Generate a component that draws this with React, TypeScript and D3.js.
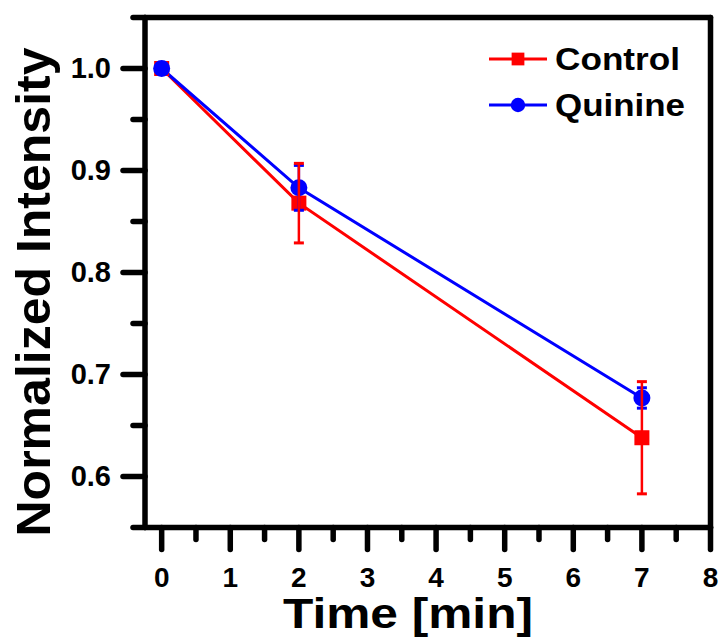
import React from "react";
import * as d3 from "d3";

const times = [0, 2, 7];
const controlValues = [1.0, 0.868, 0.638];
const controlErrors = [0, 0.039, 0.055];
const quinineValues = [1.0, 0.883, 0.677];
const quinineErrors = [0, 0.022, 0.01];
const xTicks = [0, 1, 2, 3, 4, 5, 6, 7, 8];
const xMinorTicks = [0.5, 1.5, 2.5, 3.5, 4.5, 5.5, 6.5, 7.5];
const yTicks = [0.6, 0.7, 0.8, 0.9, 1.0];
const yMinorTicks = [0.55, 0.65, 0.75, 0.85, 0.95, 1.05];
const seriesNames = ["Control", "Quinine"];

const W = 719;
const H = 643;
const FONT = "'Liberation Sans', Arial, Helvetica, sans-serif";

export default function App() {
  const x = d3.scaleLinear().domain([-0.243, 8]).range([145, 710.5]);
  const y = d3.scaleLinear().domain([0.55, 1.05]).range([527.5, 17.5]);

  const series = [
    { name: seriesNames[0], values: controlValues, errors: controlErrors, color: "#ff0000", shape: "square" },
    { name: seriesNames[1], values: quinineValues, errors: quinineErrors, color: "#0000ff", shape: "circle" },
  ];

  const line = d3
    .line<number>()
    .x((_, i) => x(times[i]))
    .y((d) => y(d));

  const marker = (shape: string, cx: number, cy: number, color: string, key: string, size = 1) =>
    shape === "square" ? (
      <rect key={key} x={cx - 7.5 * size} y={cy - 7.5 * size} width={15 * size} height={15 * size} fill={color} />
    ) : (
      <circle key={key} cx={cx} cy={cy} r={8.5 * size} fill={color} />
    );

  const [x0, x1] = x.range();
  const [y0, y1] = y.range();

  return (
    <svg width={W} height={H} style={{ position: "absolute", left: 0, top: 0, background: "#fff" }}>
      <rect x={0} y={0} width={W} height={H} fill="#fff" />
      {/* series lines */}
      {series.map((s) => (
        <path key={"l" + s.name} d={line(s.values) || ""} fill="none" stroke={s.color} strokeWidth={3} />
      ))}
      {/* markers */}
      {series.map((s) =>
        s.values.map((v, i) => marker(s.shape, x(times[i]), y(v), s.color, s.name + "m" + i))
      )}
      {/* error bars */}
      {[series[1], series[0]].map((s) =>
        s.values.map((v, i) => {
          const e = s.errors[i];
          if (!e) return null;
          const cx = x(times[i]);
          return (
            <g key={s.name + "e" + i} stroke={s.color} strokeWidth={2.5}>
              <line x1={cx} x2={cx} y1={y(v + e)} y2={y(v - e)} />
              <line x1={cx - 5} x2={cx + 5} y1={y(v + e)} y2={y(v + e)} strokeWidth={3} />
              <line x1={cx - 5} x2={cx + 5} y1={y(v - e)} y2={y(v - e)} strokeWidth={3} />
            </g>
          );
        })
      )}
      {/* frame */}
      <g stroke="#000" strokeWidth={5.5} strokeLinecap="round" fill="none">
        <line x1={x0} x2={x1} y1={y0} y2={y0} />
        <line x1={x0} x2={x1} y1={y1} y2={y1} />
        <line x1={x0} x2={x0} y1={y0} y2={y1} />
        <line x1={x1} x2={x1} y1={y0} y2={y1} />
        {xTicks.map((t) => (
          <line key={"xt" + t} x1={x(t)} x2={x(t)} y1={y0} y2={y0 + 22} />
        ))}
        {xMinorTicks.map((t) => (
          <line key={"xm" + t} x1={x(t)} x2={x(t)} y1={y0} y2={y0 + 12} />
        ))}
        {yTicks.map((t) => (
          <line key={"yt" + t} x1={x0} x2={x0 - 22} y1={y(t)} y2={y(t)} />
        ))}
        {yMinorTicks.map((t) => (
          <line key={"ym" + t} x1={x0} x2={x0 - 12} y1={y(t)} y2={y(t)} />
        ))}
      </g>
      {/* tick labels */}
      <g fontFamily={FONT} fontWeight="bold" fill="#000">
        {xTicks.map((t) => (
          <text key={"xl" + t} x={x(t)} y={587} fontSize={28} textAnchor="middle">
            {d3.format("d")(t)}
          </text>
        ))}
        {yTicks.map((t) => (
          <text key={"yl" + t} x={111} y={y(t) + 9} fontSize={29} textAnchor="end">
            {d3.format(".1f")(t)}
          </text>
        ))}
      </g>
      {/* axis titles */}
      <text
        x={408}
        y={628}
        fontFamily={FONT}
        fontWeight="bold"
        fontSize={42}
        textAnchor="middle"
        textLength={250}
        lengthAdjust="spacingAndGlyphs"
      >
        Time [min]
      </text>
      <text
        transform="translate(50,292) rotate(-90)"
        fontFamily={FONT}
        fontWeight="bold"
        fontSize={49}
        textAnchor="middle"
        textLength={489}
        lengthAdjust="spacingAndGlyphs"
      >
        Normalized Intensity
      </text>
      {/* legend */}
      {series.map((s, i) => {
        const ly = 59 + i * 46;
        return (
          <g key={"lg" + s.name}>
            <line x1={489} x2={547} y1={ly} y2={ly} stroke={s.color} strokeWidth={3} />
            {marker(s.shape, 518, ly, s.color, "lm" + i, 0.85)}
            <text
              x={555}
              y={ly + 11}
              fontFamily={FONT}
              fontWeight="bold"
              fontSize={32}
              textLength={i === 0 ? 125 : 130}
              lengthAdjust="spacingAndGlyphs"
            >
              {s.name}
            </text>
          </g>
        );
      })}
    </svg>
  );
}
